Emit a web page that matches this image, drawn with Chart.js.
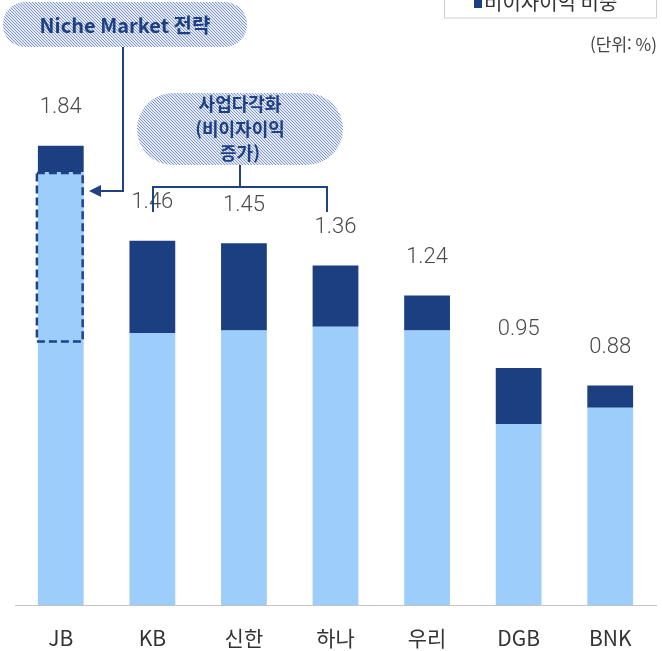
<!DOCTYPE html>
<html lang="ko">
<head>
<meta charset="utf-8">
<script src="https://cdn.jsdelivr.net/npm/chart.js@4.4.1/dist/chart.umd.min.js"></script>
<style>
  html, body { margin: 0; padding: 0; background: #ffffff; }
  #wrap { position: relative; width: 662px; height: 651px; }
</style>
</head>
<body>
<div id="wrap"><canvas id="chart" width="662" height="651"></canvas></div>
<script>
// 은행별 이자이익 / 비이자이익 비중 (단위: %)
const categories = ["JB", "KB", "신한", "하나", "우리", "DGB", "BNK"];
const interestShare = [1.735, 1.09, 1.10, 1.115, 1.10, 0.725, 0.79];
const nonInterestShare = [0.105, 0.37, 0.35, 0.245, 0.14, 0.225, 0.09];
const totals = [1.84, 1.46, 1.45, 1.36, 1.24, 0.95, 0.88];

const NAVY = "#1c3f82";
const LIGHT = "#9dcefb";
const LINE = "#1f4287";
const FONT = "Roboto, 'Noto Sans CJK KR', sans-serif";
const KFONT = "'Noto Sans CJK KR', Roboto, sans-serif";

function dotPattern(ctx) {
  const tile = document.createElement("canvas");
  tile.width = 3;
  tile.height = 3;
  const t = tile.getContext("2d");
  t.fillStyle = "#e4eaf5";
  t.fillRect(0, 0, 3, 3);
  t.fillStyle = "#8398c6";
  t.fillRect(0, 0, 1, 1);
  t.fillRect(1, 1, 1, 1);
  t.fillRect(2, 2, 1, 1);
  return ctx.createPattern(tile, "repeat");
}

function pill(ctx, x, y, w, h, r) {
  ctx.beginPath();
  ctx.roundRect(x, y, w, h, r);
  ctx.fillStyle = dotPattern(ctx);
  ctx.fill();
}

const overlayPlugin = {
  id: "overlay",
  afterDatasetsDraw(chart) {
    const { ctx } = chart;
    const yScale = chart.scales.y;
    const topMeta = chart.getDatasetMeta(1);
    const baseMeta = chart.getDatasetMeta(0);

    // total labels above bars
    ctx.save();
    ctx.font = `300 22px ${FONT}`;
    ctx.fillStyle = "#4a4a4a";
    ctx.textAlign = "center";
    ctx.textBaseline = "middle";
    topMeta.data.forEach((bar, i) => {
      ctx.fillText(totals[i].toFixed(2), bar.x, yScale.getPixelForValue(totals[i]) - 38);
    });
    ctx.restore();

    // dashed box on JB interest portion
    const jb = baseMeta.data[0];
    const half = jb.width / 2;
    ctx.save();
    ctx.strokeStyle = LINE;
    ctx.lineWidth = 2.5;
    ctx.setLineDash([8, 4]);
    const boxBottom = yScale.getPixelForValue(1.06);
    ctx.strokeRect(jb.x - half - 1, jb.y + 1, jb.width, boxBottom - jb.y);
    ctx.restore();

    // legend (cut at top edge)
    ctx.save();
    ctx.strokeStyle = "#cfcfcf";
    ctx.lineWidth = 1;
    ctx.strokeRect(444.5, -6, 212, 24);
    ctx.fillStyle = NAVY;
    ctx.fillRect(474, -2, 8, 10);
    ctx.font = `400 20px ${KFONT}`;
    ctx.fillStyle = "#333";
    ctx.textBaseline = "middle";
    ctx.fillText(chart.data.datasets[1].label, 484, 2);
    ctx.font = `400 17px ${KFONT}`;
    ctx.fillStyle = "#444";
    ctx.textAlign = "right";
    ctx.fillText("(단위: %)", 657, 45);
    ctx.restore();

    // Niche Market bubble + arrow
    ctx.save();
    pill(ctx, 3, 2, 244, 45, 22);
    ctx.font = `700 20px ${KFONT}`;
    ctx.fillStyle = "#1d3f85";
    ctx.textAlign = "center";
    ctx.textBaseline = "middle";
    ctx.fillText("Niche Market 전략", 125, 25);
    ctx.strokeStyle = LINE;
    ctx.lineWidth = 2;
    ctx.beginPath();
    ctx.moveTo(123, 47);
    ctx.lineTo(123, 191);
    ctx.lineTo(99, 191);
    ctx.stroke();
    ctx.fillStyle = LINE;
    ctx.beginPath();
    ctx.moveTo(89, 191);
    ctx.lineTo(101, 185);
    ctx.lineTo(101, 197);
    ctx.closePath();
    ctx.fill();
    ctx.restore();

    // 사업다각화 bubble + bracket
    ctx.save();
    pill(ctx, 137, 93, 206, 72, 36);
    ctx.font = `700 18px ${KFONT}`;
    ctx.fillStyle = "#1d3f85";
    ctx.textAlign = "center";
    ctx.textBaseline = "middle";
    ctx.fillText("사업다각화", 240, 104);
    ctx.fillText("(비이자이익", 240, 129);
    ctx.fillText("증가)", 240, 153);
    ctx.strokeStyle = LINE;
    ctx.lineWidth = 2;
    ctx.beginPath();
    ctx.moveTo(240, 165);
    ctx.lineTo(240, 187);
    ctx.moveTo(153, 212);
    ctx.lineTo(153, 187);
    ctx.lineTo(327, 187);
    ctx.lineTo(327, 212);
    ctx.stroke();
    ctx.restore();
  },
};

new Chart(document.getElementById("chart"), {
  type: "bar",
  data: {
    labels: categories,
    datasets: [
      { label: "이자이익 비중", data: interestShare, backgroundColor: LIGHT, barPercentage: 0.5, categoryPercentage: 1 },
      { label: "비이자이익 비중", data: nonInterestShare, backgroundColor: NAVY, barPercentage: 0.5, categoryPercentage: 1 },
    ],
  },
  options: {
    responsive: false,
    animation: false,
    devicePixelRatio: 1,
    layout: { padding: { top: 56, left: 15, right: 6, bottom: 2 } },
    plugins: { legend: { display: false }, tooltip: { enabled: false } },
    scales: {
      x: {
        stacked: true,
        grid: { display: false },
        border: { display: true, color: "#c4c4c4", width: 1 },
        ticks: { color: "#333", padding: 12, font: { family: KFONT, size: 21 } },
        afterFit(scale) { scale.height = 44; },
      },
      y: {
        stacked: true,
        display: false,
        min: 0,
        max: 2.2,
      },
    },
  },
  plugins: [overlayPlugin],
});
</script>
</body>
</html>
